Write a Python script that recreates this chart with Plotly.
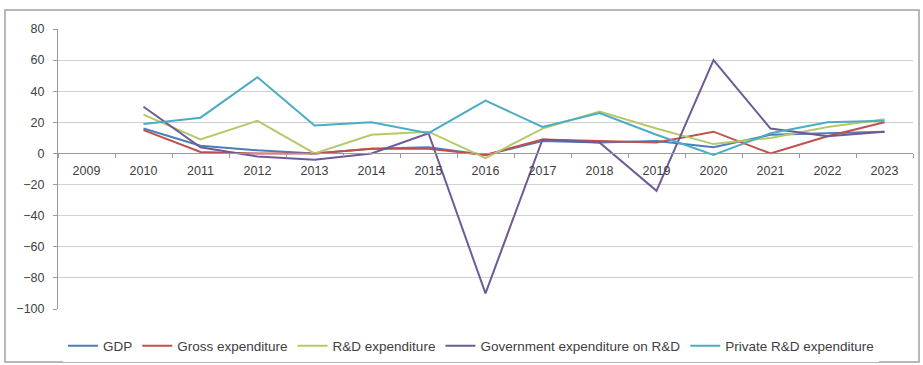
import plotly.graph_objects as go

# Annual growth rates (%), 2009-2023
years = [str(y) for y in range(2009, 2024)]

gdp = [None, 16, 5, 2, 0, 3, 4, -1, 8, 7, 8, 4, 12, 13, 14]
gross_exp = [None, 15, 1, 0, 0, 3, 3, -1, 9, 8, 7, 14, 0, 11, 20]
rd_exp = [None, 25, 9, 21, 0, 12, 14, -3, 16, 27, 16, 6, 10, 17, 22]
gov_rd = [None, 30, 4, -2, -4, 0, 13, -90, 9, 7, -24, 60, 16, 11, 14]
private_rd = [None, 19, 23, 49, 18, 20, 13, 34, 17, 26, 12, -1, 13, 20, 21]

y_ticks = [80, 60, 40, 20, 0, -20, -40, -60, -80, -100]

series = [
    ("GDP", gdp, "#4A7EBB"),
    ("Gross expenditure", gross_exp, "#C0504D"),
    ("R&D expenditure", rd_exp, "#B5C96A"),
    ("Government expenditure on R&D", gov_rd, "#6E5A96"),
    ("Private R&D expenditure", private_rd, "#4BACC6"),
]

fig = go.Figure()
for name, vals, color in series:
    fig.add_trace(go.Scatter(
        x=years, y=vals, name=name, mode="lines",
        line=dict(color=color, width=2),
        connectgaps=False,
    ))

y_min, y_max = -100, 80
zero_pos = (0 - y_min) / (y_max - y_min)

fig.update_layout(
    width=923, height=365,
    margin=dict(l=58, r=10, t=29, b=56, autoexpand=False),
    paper_bgcolor="white",
    plot_bgcolor="white",
    font=dict(family="Liberation Sans", size=12, color="#404040"),
    showlegend=True,
    legend=dict(
        orientation="h", x=(471 - 58) / 855, xanchor="center",
        y=(309 - 346) / 280, yanchor="middle",
        font=dict(size=13.5, color="#404040"),
        itemwidth=30, tracegroupgap=0,
    ),
    xaxis=dict(
        type="category",
        anchor="free", position=zero_pos,
        showline=True, linecolor="#9A9A9A", linewidth=1,
        ticks="outside", tickson="boundaries", ticklen=4, tickcolor="#9A9A9A",
        ticklabelstandoff=6,
        showgrid=False, zeroline=False,
        tickfont=dict(size=12.5, color="#404040"),
        range=[-0.5, len(years) - 0.5],
    ),
    yaxis=dict(
        range=[y_min, y_max],
        tickvals=y_ticks,
        showgrid=True, gridcolor="#D0D0D0", gridwidth=1,
        showline=True, linecolor="#9A9A9A", linewidth=1,
        ticks="outside", ticklen=4, tickcolor="#9A9A9A",
        ticklabelstandoff=6,
        zeroline=False,
        tickfont=dict(size=12.5, color="#404040"),
    ),
    shapes=[
        dict(
            type="rect", xref="paper", yref="paper",
            x0=(5 - 58) / 855, x1=(919 - 58) / 855,
            y0=(309 - 362) / 280, y1=(309 - 10) / 280,
            line=dict(color="#A0A0A0", width=1.5),
            fillcolor="rgba(0,0,0,0)", layer="below",
        )
    ],
)

fig.write_html("out.html")
